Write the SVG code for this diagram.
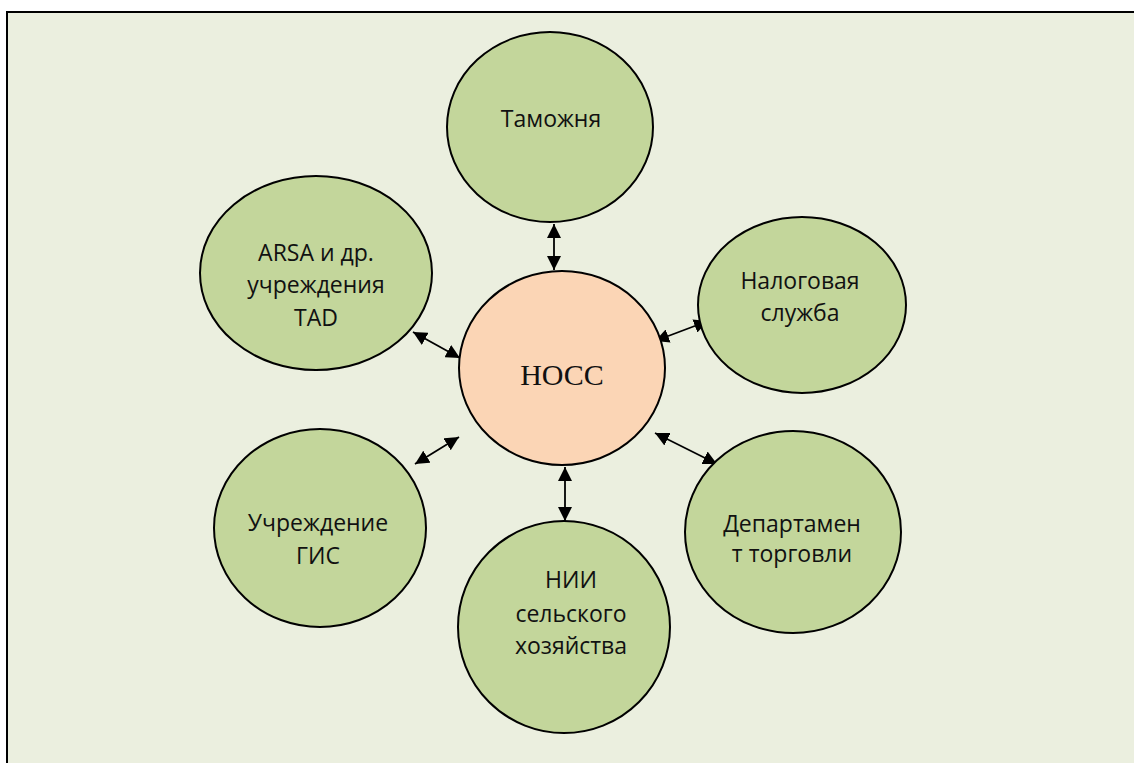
<svg xmlns="http://www.w3.org/2000/svg" width="1134" height="763" viewBox="0 0 1134 763">
<style>
.node{fill:#C3D69B;stroke:#000;stroke-width:2}
.center{fill:#FBD5B5;stroke:#000;stroke-width:2}
.lbl{font-family:"Open Sans","Liberation Sans",sans-serif;font-size:23px;fill:#111;text-anchor:middle}
.clbl{font-family:"Liberation Serif",serif;font-size:30px;fill:#111;text-anchor:middle}
.conn{stroke:#000;stroke-width:1.8;fill:none;marker-start:url(#ah);marker-end:url(#ah)}
</style>
<defs>
<marker id="ah" markerUnits="userSpaceOnUse" viewBox="0 0 14 14" refX="14" refY="7" markerWidth="14" markerHeight="14" orient="auto-start-reverse">
<path d="M0,0 L14,7 L0,14 Z" fill="#000"/>
</marker>
</defs>
<rect x="0" y="0" width="1134" height="763" fill="#fff"/>
<rect x="7" y="12" width="1127" height="751" fill="#EBEFDF"/>
<path d="M7,763 V12 H1134" fill="none" stroke="#000" stroke-width="2"/>
<g id="connectors">
<line class="conn" x1="554" y1="224" x2="554" y2="270"/>
<line class="conn" x1="655" y1="341" x2="708" y2="321"/>
<line class="conn" x1="413" y1="332" x2="460" y2="358"/>
<line class="conn" x1="415" y1="464" x2="459" y2="437"/>
<line class="conn" x1="655" y1="433" x2="717" y2="464"/>
<line class="conn" x1="565" y1="467" x2="565" y2="521"/>
</g>
<g id="hocc">
<ellipse class="center" cx="562" cy="368" rx="103" ry="97"/>
<text class="clbl" x="562" y="385">НОСС</text>
</g>
<g id="tamozhnya">
<ellipse class="node" cx="550" cy="127" rx="103" ry="95"/>
<text class="lbl" x="551" y="127">Таможня</text>
</g>
<g id="nalogovaya">
<ellipse class="node" cx="802" cy="305" rx="104" ry="88"/>
<text class="lbl" x="800" y="289">Налоговая</text>
<text class="lbl" x="800" y="321">служба</text>
</g>
<g id="arsa">
<ellipse class="node" cx="316" cy="273" rx="116" ry="97"/>
<text class="lbl" x="316" y="261">ARSA и др.</text>
<text class="lbl" x="316" y="293">учреждения</text>
<text class="lbl" x="316" y="326">TAD</text>
</g>
<g id="gis">
<ellipse class="node" cx="320" cy="528" rx="106" ry="99"/>
<text class="lbl" x="318" y="531">Учреждение</text>
<text class="lbl" x="318" y="564">ГИС</text>
</g>
<g id="nii">
<ellipse class="node" cx="564" cy="627" rx="106" ry="106"/>
<text class="lbl" x="571" y="588">НИИ</text>
<text class="lbl" x="571" y="622">сельского</text>
<text class="lbl" x="571" y="654">хозяйства</text>
</g>
<g id="departament">
<ellipse class="node" cx="793" cy="532" rx="108" ry="101"/>
<text class="lbl" x="792" y="532">Департамен</text>
<text class="lbl" x="792" y="562">т торговли</text>
</g>
</svg>
